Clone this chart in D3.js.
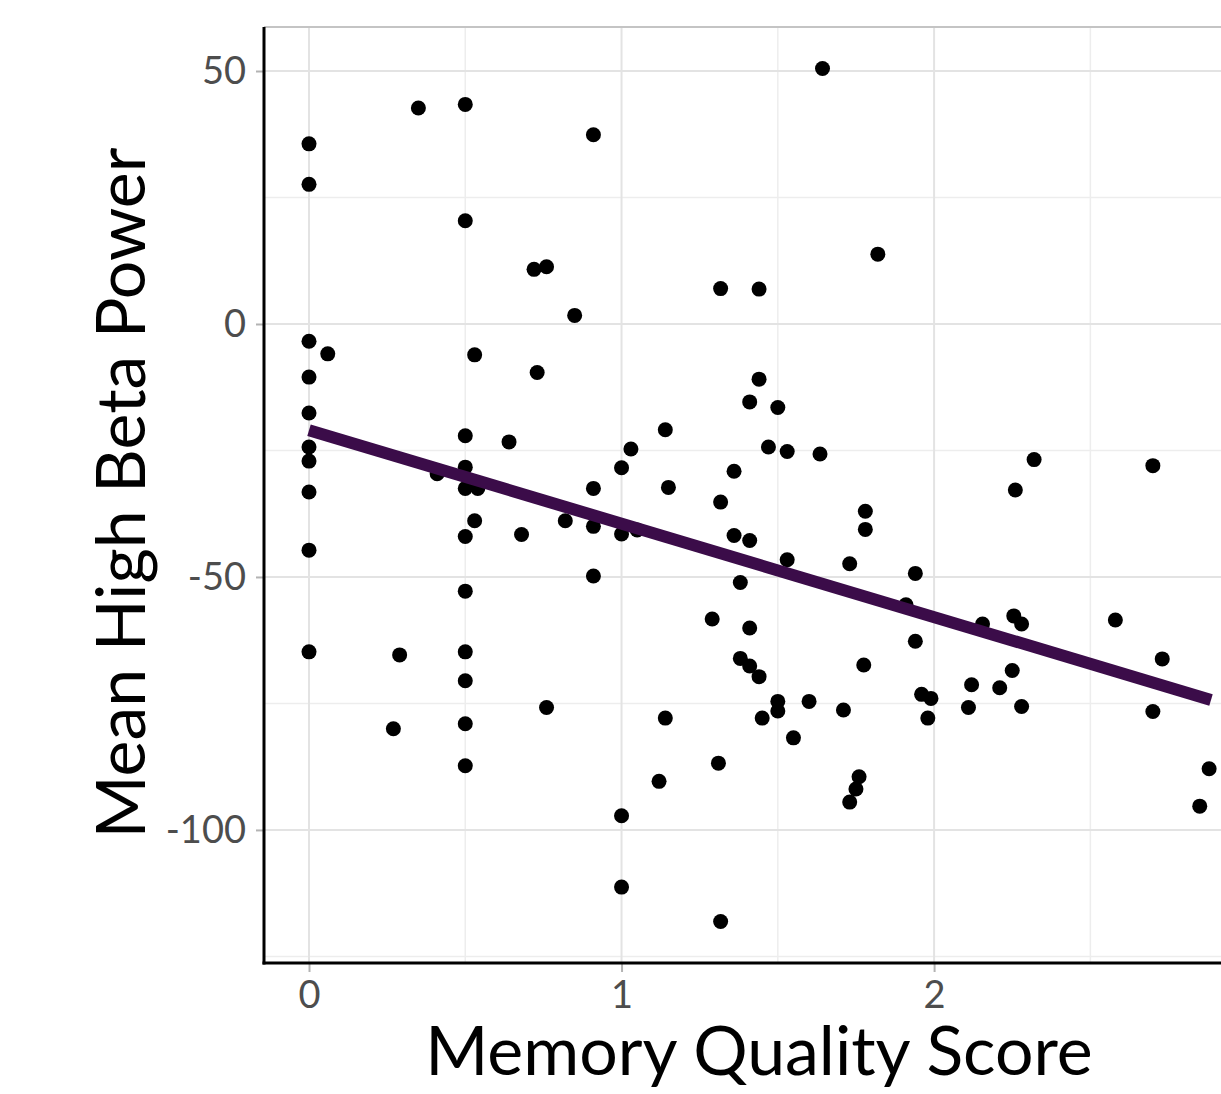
<!DOCTYPE html>
<html>
<head>
<meta charset="utf-8">
<script src="https://cdn.jsdelivr.net/npm/d3@7"></script>
<style>
  body { margin: 0; background: #fff; }
  svg { display: block; font-family: Lato, "Noto Sans", sans-serif; }
</style>
</head>
<body>
<svg id="chart"></svg>
<script>

/*Data*/
var memoryScore = [
    0, 0, 0, 0, 0, 0, 0, 0, 0, 0,
    0.06, 0.29, 0.27, 0.35, 0.41,
    0.5, 0.5, 0.5, 0.5, 0.5, 0.5, 0.5, 0.5, 0.5, 0.5, 0.5,
    0.53, 0.54, 0.53, 0.64, 0.68, 0.72, 0.73, 0.76, 0.76, 0.82, 0.85,
    0.91, 0.91, 0.91, 0.91,
    1.0, 1.0, 1.0, 1.0, 1.03, 1.05, 1.12, 1.14, 1.14, 1.15,
    1.29, 1.31, 1.317, 1.317, 1.317, 1.36, 1.36, 1.38, 1.38,
    1.41, 1.41, 1.41, 1.41, 1.44, 1.44, 1.44, 1.45, 1.47,
    1.50, 1.50, 1.50, 1.53, 1.53, 1.55, 1.60, 1.635, 1.643,
    1.71, 1.73, 1.73, 1.75, 1.76, 1.775, 1.78, 1.78, 1.82,
    1.91, 1.94, 1.94, 1.96, 1.99, 1.98,
    2.11, 2.12, 2.155, 2.21, 2.25, 2.255, 2.26, 2.28, 2.28, 2.32,
    2.58, 2.70, 2.70, 2.73, 2.85, 2.88
];
var betaPower = [
    35.6, 27.6, -3.4, -10.5, -17.6, -24.3, -27.1, -33.2, -44.7, -64.8,
    -5.9, -65.4, -80.0, 42.7, -29.6,
    43.4, 20.4, -22.1, -28.3, -32.5, -42.0, -52.8, -64.8, -70.5, -79.0, -87.3,
    -6.1, -32.5, -38.9, -23.3, -41.6, 10.8, -9.6, 11.3, -75.8, -38.9, 1.7,
    37.4, -32.5, -40.0, -49.8,
    -28.4, -41.5, -97.2, -111.3, -24.7, -40.7, -90.4, -77.9, -20.9, -32.3,
    -58.3, -86.8, -35.2, 7.0, -118.1, -29.1, -41.8, -51.1, -66.1,
    -15.4, -42.8, -60.1, -67.6, 6.9, -10.9, -69.7, -77.9, -24.3,
    -16.5, -74.6, -76.5, -25.2, -46.6, -81.8, -74.6, -25.7, 50.5,
    -76.3, -47.4, -94.5, -91.9, -89.5, -67.4, -40.6, -37.0, 13.8,
    -55.5, -49.3, -62.7, -73.2, -74.0, -77.9,
    -75.8, -71.3, -59.3, -71.9, -68.5, -57.7, -32.8, -59.3, -75.6, -26.8,
    -58.5, -28.0, -76.6, -66.2, -95.3, -87.9
];

//Fitted line end points
var fitX = [0, 2.886];
var fitY = [-21.0, -74.3];

//Ticks
var xMajor = [0, 1, 2];
var xMinor = [0.5, 1.5, 2.5];
var yMajor = [50, 0, -50, -100];
var yMinor = [25, -25, -75, -125];

/*Sizes*/
var width = 1221, height = 1094;
var panel = {"left": 264, "right": 1221, "top": 27, "bottom": 963};

var svg = d3.select("#chart")
    .attr("width", width)
    .attr("height", height);

var x = d3.scaleLinear().domain([-0.144, 2.918]).range([panel.left, panel.right]);
var y = d3.scaleLinear().domain([-126.3, 58.7]).range([panel.bottom, panel.top]);

//Plain hyphen for negatives, as in the original
function label(d) { return String(d); }

//Grid
function vLines(vals, colour, w) {
    svg.append("g").selectAll("line").data(vals).enter().append("line")
        .attr("x1", function(d){return x(d);}).attr("x2", function(d){return x(d);})
        .attr("y1", panel.top).attr("y2", panel.bottom)
        .attr("stroke", colour).attr("stroke-width", w);
}
function hLines(vals, colour, w) {
    svg.append("g").selectAll("line").data(vals).enter().append("line")
        .attr("y1", function(d){return y(d);}).attr("y2", function(d){return y(d);})
        .attr("x1", panel.left).attr("x2", panel.right)
        .attr("stroke", colour).attr("stroke-width", w);
}
vLines(xMinor, "#ededed", 1.5);
hLines(yMinor, "#ededed", 1.5);
vLines(xMajor, "#e3e3e3", 2);
hLines(yMajor, "#e3e3e3", 2);

//Top edge
svg.append("line")
    .attr("x1", panel.left).attr("x2", panel.right)
    .attr("y1", panel.top).attr("y2", panel.top)
    .attr("stroke", "#c4c4c4").attr("stroke-width", 2);

//Axes
var yAxis = d3.axisLeft(y).tickValues(yMajor).tickFormat(label).tickSize(8).tickPadding(10);
var xAxis = d3.axisBottom(x).tickValues(xMajor).tickFormat(label).tickSize(9).tickPadding(8);

var gy = svg.append("g").attr("transform", "translate(" + panel.left + ",0)").call(yAxis);
var gx = svg.append("g").attr("transform", "translate(0," + panel.bottom + ")").call(xAxis);

[gx, gy].forEach(function(g){
    g.select(".domain").remove();
    g.selectAll(".tick line").attr("stroke", "#b3b3b3").attr("stroke-width", 2);
    g.selectAll(".tick text")
        .attr("fill", "#4d4d4d")
        .style("font-size", "38px")
        .style("font-family", "Lato, 'Noto Sans', sans-serif");
});
gx.selectAll(".tick text").attr("dy", "0.74em");

svg.append("line")
    .attr("x1", panel.left).attr("x2", panel.left)
    .attr("y1", panel.top).attr("y2", panel.bottom + 1.5)
    .attr("stroke", "#000").attr("stroke-width", 3);
svg.append("line")
    .attr("x1", panel.left - 1.5).attr("x2", panel.right)
    .attr("y1", panel.bottom).attr("y2", panel.bottom)
    .attr("stroke", "#000").attr("stroke-width", 3);

//Points
svg.append("g").selectAll("circle")
    .data(memoryScore)
    .enter()
    .append("circle")
    .attr("cx", function(d){return x(d);})
    .attr("cy", function(d, i){return y(betaPower[i]);})
    .attr("r", 7.5)
    .attr("fill", "#000");

//Fitted line
var fit = d3.line()
    .x(function(d){return x(d);})
    .y(function(d, i){return y(fitY[i]);});
svg.append("path")
    .datum(fitX)
    .attr("d", fit)
    .attr("fill", "none")
    .attr("stroke", "#3b0c49")
    .attr("stroke-width", 12);

//Titles
svg.append("text")
    .attr("x", 759)
    .attr("y", 1075)
    .attr("text-anchor", "middle")
    .style("font-size", "68px")
    .text("Memory Quality Score");

svg.append("text")
    .attr("transform", "translate(145,493) rotate(-90)")
    .attr("text-anchor", "middle")
    .style("font-size", "68px")
    .text("Mean High Beta Power");

</script>
</body>
</html>
